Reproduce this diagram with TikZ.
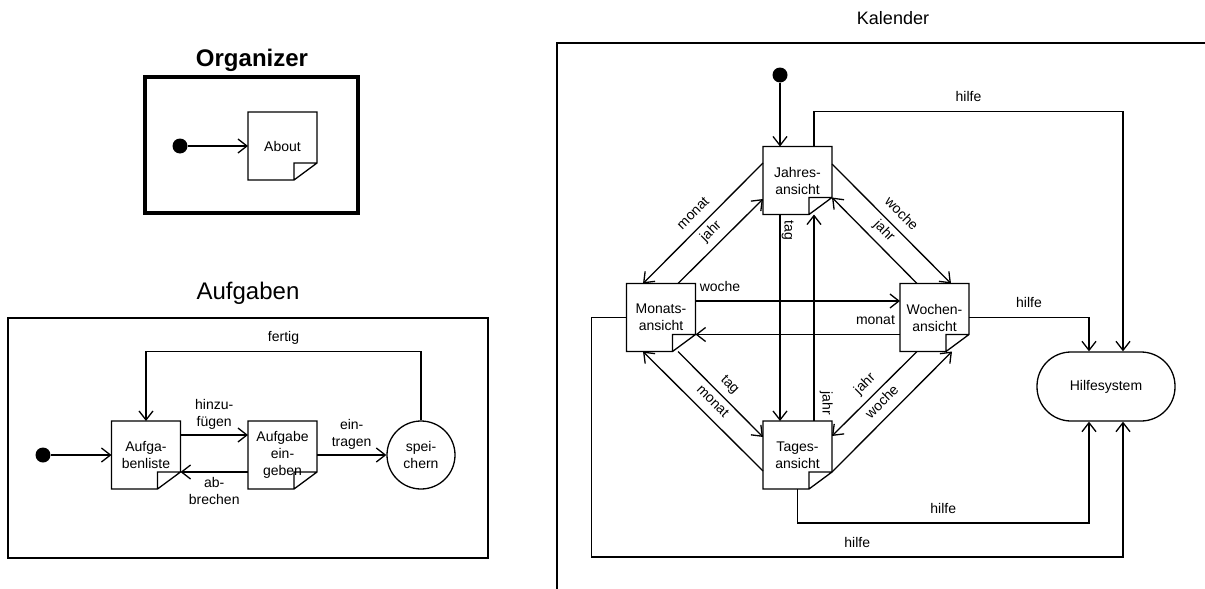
\documentclass[tikz,border=0pt]{standalone}
\usepackage{fontspec}
\setmainfont{Liberation Sans}
\usetikzlibrary{arrows.meta}
\newcommand\notefold[1]{%
  \draw (#1.north west) -- (#1.north east) -- ([yshift=17pt]#1.south east) -- ([xshift=-23pt]#1.south east) -- (#1.south west) -- cycle
        ([xshift=-23pt]#1.south east) -- ([xshift=-23pt,yshift=17pt]#1.south east) -- ([yshift=17pt]#1.south east);
  \coordinate (#1-f) at ([yshift=17pt]#1.south east);}
\begin{document}
\begin{tikzpicture}[x=1pt,y=-1pt,line width=1.3pt,
  fnt/.style={font=\fontsize{14}{17}\selectfont},
  notebox/.style={fnt, minimum width=69pt, minimum height=68pt, inner sep=1pt, outer sep=0pt, align=center},
  startdot/.style={circle, fill=black, inner sep=0pt, minimum size=15pt},
  arr/.style={-{Straight Barb[length=9pt,width=14pt]}},
  lbl/.style={fnt, inner sep=3pt, text height=10pt, text depth=3pt},
  lbltwo/.style={fnt, inner sep=2pt, align=center},
  frame/.style={line width=1.8pt},
  title/.style={font=\fontsize{24}{28}\selectfont}]
\useasboundingbox (0,0) rectangle (1205,589);

% ---------- Organizer ----------
\node[title, font=\fontsize{24}{28}\selectfont\bfseries] (torg) at (252,60) {Organizer};
\draw[line width=4.5pt] (145,77) rectangle (358,213);
\node[startdot] (odot) at (180,146) {};
\node[notebox] (about) at (282.5,146) {About};
\notefold{about}
\draw[arr] (odot) -- (about.west);

% ---------- Aufgaben ----------
\node[title] (taufg) at (248,293) {Aufgaben};
\draw[frame] (8,318) rectangle (488,558);
\node[startdot] (adot) at (43,455) {};
\node[notebox] (liste) at (146,455) {Aufga-\\benliste};
\notefold{liste}
\node[notebox] (eing) at (282.5,455) {Aufgabe\\ein-\\geben};
\notefold{eing}
\node[draw, circle, minimum size=68pt, inner sep=0pt, fnt, align=center] (sp) at (421,455) {spei-\\chern};
\draw[arr] (adot) -- (liste.west);
\draw[arr] ([yshift=20pt]liste.east) -- ([yshift=20pt]eing.west) node[lbltwo, midway, above=3pt] {hinzu-\\fügen};
\draw[arr] (eing.west |- liste-f) -- (liste-f) node[lbltwo, midway, below=3pt] {ab-\\brechen};
\draw[arr] (eing) -- (sp) node[lbltwo, midway, above=3pt] {ein-\\tragen};
\draw[arr] (sp.north) -- ++(0,-69) -| (liste.north) node[lbl, pos=0.25, above=3pt] {fertig};

% ---------- Kalender ----------
\node[font=\fontsize{18}{22}\selectfont] (tkal) at (893,18) {Kalender};
\draw[frame] (1205,43) -- (557,43) -- (557,589);
\node[startdot] (kdot) at (780,75) {};
\node[notebox] (J) at (797.5,180.5) {Jahres-\\ansicht};
\notefold{J}
\node[notebox] (M) at (661,317.5) {Monats-\\ansicht};
\notefold{M}
\node[notebox] (W) at (934.5,317.5) {Wochen-\\ansicht};
\notefold{W}
\node[notebox] (T) at (797.5,455) {Tages-\\ansicht};
\notefold{T}
\node[draw, rounded corners=34pt, minimum width=138pt, minimum height=69pt, fnt] (H) at (1106,386.5) {Hilfesystem};

\draw[arr] (kdot) -- (kdot |- J.north);
\draw[arr] ([xshift=-17.5pt]J.south) -- ([xshift=-17.5pt]T.north) node[lbl, inner sep=1pt, pos=0.077, anchor=south, rotate=-90] {tag};
\draw[arr] ([xshift=16.5pt]T.north) -- ([xshift=16.5pt]J.south) node[lbl, inner sep=5pt, pos=0.087, anchor=south, rotate=-90] {jahr};

\draw[arr] ([yshift=17.5pt]J.west) -- ([xshift=-18pt]M.north) node[lbl, midway, sloped, above=3pt] {monat};
\draw[arr] ([xshift=17pt]M.north) -- ([yshift=-18.5pt]J.west) node[lbl, midway, sloped, above=3pt] {jahr};
\draw[arr] ([yshift=16.5pt]J.east) -- ([xshift=16.5pt]W.north) node[lbl, midway, sloped, above=3pt] {woche};
\draw[arr] ([xshift=-17.5pt]W.north) -- (J-f) node[lbl, midway, sloped, above=3pt] {jahr};
\draw[arr] ([yshift=16.5pt]M.east) -- ([yshift=16.5pt]W.west) node[lbl, pos=0.12, above=3pt] {woche};
\draw[arr] (W.west |- M-f) -- (M-f) node[lbl, pos=0.12, above=3pt] {monat};
\draw[arr] ([xshift=17pt]M.south) -- ([yshift=18pt]T.west) node[lbl, midway, sloped, above=3pt] {tag};
\draw[arr] ([yshift=-16pt]T.west) -- ([xshift=-18pt]M.south) node[lbl, midway, sloped, above=3pt] {monat};
\draw[arr] ([xshift=-17.5pt]W.south) -- ([yshift=19pt]T.east) node[lbl, midway, sloped, above=3pt] {jahr};
\draw[arr] (T-f) -- ([xshift=-17pt]W.south east) node[lbl, midway, sloped, above=3pt] {woche};

\draw[arr] ([xshift=16.5pt]J.north) -- ++(0,-35) -| ([xshift=17pt]H.north) node[lbl, pos=0.25, above=3pt] {hilfe};
\draw[arr] (W.east) -| ([xshift=-17pt]H.north) node[lbl, pos=0.25, above=3pt] {hilfe};
\draw[arr] (T.south) -- ++(0,34) -| ([xshift=-17pt]H.south) node[lbl, pos=0.25, above=3pt] {hilfe};
\draw[arr] (M.west) -- ++(-35,0) -- ++(0,239.5) -| ([xshift=17pt]H.south) node[lbl, pos=0.25, above=3pt] {hilfe};
\end{tikzpicture}
\end{document}
